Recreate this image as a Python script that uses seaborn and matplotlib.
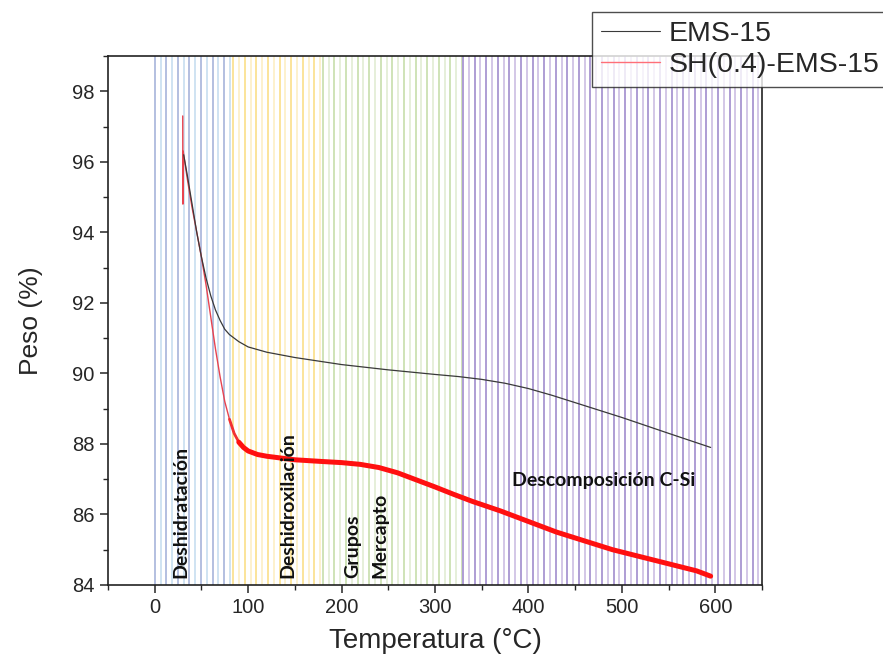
import numpy as np
import pandas as pd
import matplotlib
matplotlib.use("Agg")
import matplotlib.pyplot as plt
from matplotlib.lines import Line2D
from matplotlib.ticker import MultipleLocator
import seaborn as sns

# TGA curves: temperature (°C) and remaining weight (%)
temp_ems = [31, 35, 40, 45, 50, 55, 60, 65, 70, 75, 80, 85, 90, 100, 120, 150,
            200, 250, 300, 325, 350, 375, 400, 425, 450, 500, 550, 595]
peso_ems = [96.2, 95.6, 94.8, 94.0, 93.3, 92.7, 92.2, 91.8, 91.5, 91.25, 91.1,
            91.0, 90.9, 90.75, 90.6, 90.45, 90.25, 90.1, 89.97, 89.91, 89.83,
            89.72, 89.57, 89.38, 89.17, 88.75, 88.3, 87.9]

temp_sh = [30.0, 30.2, 30.5, 31, 35, 40, 45, 50, 55, 60, 65, 70, 75, 80, 85, 90,
           95, 100, 110, 120, 150, 180, 200, 220, 240, 260, 280, 300, 320, 340,
           370, 400, 430, 460, 490, 520, 550, 580, 595]
peso_sh = [97.3, 94.8, 96.3, 96.2, 95.5, 94.7, 94.0, 93.3, 92.5, 91.6, 90.7,
           89.9, 89.2, 88.7, 88.3, 88.05, 87.9, 87.8, 87.7, 87.65, 87.55, 87.5,
           87.47, 87.42, 87.33, 87.18, 86.98, 86.78, 86.57, 86.37, 86.1, 85.8,
           85.5, 85.25, 85.0, 84.8, 84.6, 84.4, 84.25]

series_names = ["EMS-15", "SH(0.4)-EMS-15"]

# Thermal stages shaded with striped backgrounds
stage_edges = [0, 84, 180, 330, 650]
stage_colors = [("#b3bfe0", "#cfe3f2"),
                ("#fbe49a", "#fdf1cc"),
                ("#cfe3b8", "#e6efd9"),
                ("#ae9dd4", "#d3c7e7")]
stage_labels = ["Deshidratación", "Deshidroxilación", "Grupos", "Mercapto",
                "Descomposición C-Si"]

sns.set_style("white")
plt.rcParams["font.family"] = ["Liberation Sans", "DejaVu Sans"]

fig = plt.figure(figsize=(8.83, 6.69), dpi=100)
ax = fig.add_axes([0.1223, 0.1256, 0.7407, 0.7907])

for (lo, hi), (c1, c2) in zip(zip(stage_edges[:-1], stage_edges[1:]), stage_colors):
    for i, xv in enumerate(np.arange(lo, hi, 6.2)):
        ax.axvline(xv, color=c1 if i % 2 == 0 else c2, lw=1.4, zorder=0)

df_ems = pd.DataFrame({"T": temp_ems, "P": peso_ems})
df_sh = pd.DataFrame({"T": temp_sh, "P": peso_sh})

sns.lineplot(data=df_ems, x="T", y="P", ax=ax, color="#3a3a3a", lw=0.9,
             sort=False, zorder=3)
steep = df_sh[df_sh["T"] <= 95]
mid = df_sh[(df_sh["T"] >= 80) & (df_sh["T"] <= 120)]
flat = df_sh[df_sh["T"] >= 90]
sns.lineplot(data=steep, x="T", y="P", ax=ax, color="#e8434f", lw=1.0,
             sort=False, zorder=2)
sns.lineplot(data=mid, x="T", y="P", ax=ax, color="#f23030", lw=2.0,
             sort=False, zorder=2)
sns.lineplot(data=flat, x="T", y="P", ax=ax, color="#ff1010", lw=3.6,
             sort=False, zorder=2)

ax.set_xlim(-50, 650)
ax.set_ylim(84, 99)
ax.xaxis.set_major_locator(MultipleLocator(100))
ax.xaxis.set_minor_locator(MultipleLocator(50))
ax.yaxis.set_major_locator(MultipleLocator(2))
ax.yaxis.set_minor_locator(MultipleLocator(1))
ax.tick_params(which="major", direction="out", length=6, width=1.1,
               labelsize=14.5, bottom=True, left=True, top=False, right=False)
ax.tick_params(which="minor", direction="out", length=3.5, width=1.0,
               bottom=True, left=True, top=False, right=False)
for s in ax.spines.values():
    s.set_color("#222222")
    s.set_linewidth(1.2)

ax.set_xlabel("Temperatura (°C)", fontsize=20, labelpad=8)
ax.set_ylabel("Peso (%)", fontsize=19, labelpad=21)

ann = dict(fontsize=14, fontweight="bold", family=["Lato", "DejaVu Sans"],
           color="#111111", zorder=5)
ax.text(28, 84.2, stage_labels[0], rotation=90, ha="center", va="bottom", **ann)
ax.text(143, 84.2, stage_labels[1], rotation=90, ha="center", va="bottom", **ann)
ax.text(212, 84.2, stage_labels[2], rotation=90, ha="center", va="bottom", **ann)
ax.text(241, 84.2, stage_labels[3], rotation=90, ha="center", va="bottom", **ann)
ax.text(480, 86.95, stage_labels[4], ha="center", va="center", **ann)

handles = [Line2D([], [], color="#3a3a3a", lw=0.8),
           Line2D([], [], color="#ff6f78", lw=1.0)]
leg = fig.legend(handles, series_names, loc="upper left",
                 bbox_to_anchor=(592 / 883, 1 - 12 / 669), fontsize=20.5,
                 frameon=True, fancybox=False, edgecolor="#222222",
                 handlelength=2.1, handletextpad=0.3, borderpad=0.3,
                 labelspacing=0.2, borderaxespad=0)
leg.get_frame().set_linewidth(1.0)

fig.savefig("out.png", dpi=100)
